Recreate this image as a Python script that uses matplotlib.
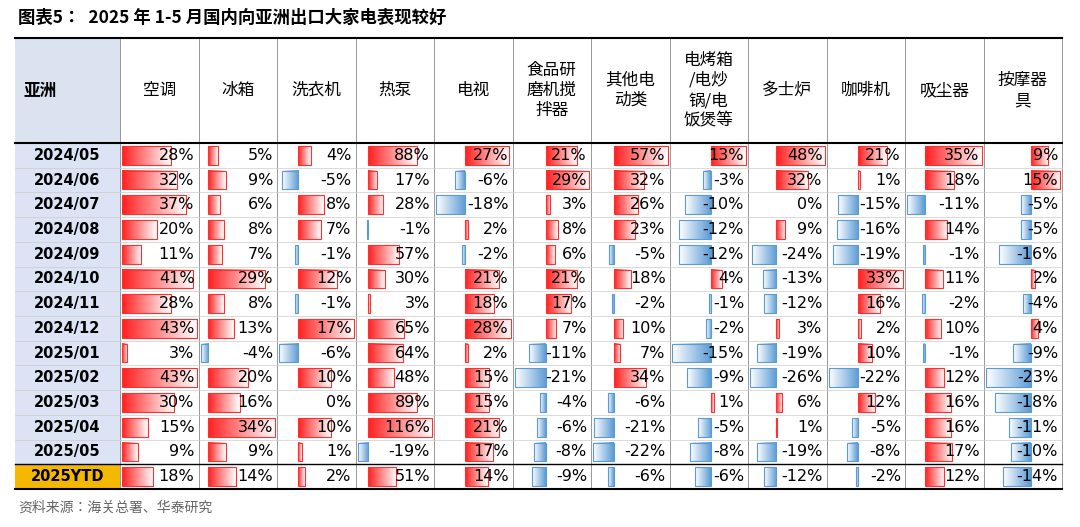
import numpy as np
import matplotlib as mpl
mpl.use('Agg')
import matplotlib.pyplot as plt
from matplotlib.patches import Rectangle
from matplotlib.colors import LinearSegmentedColormap

plt.rcParams['font.family'] = ['DejaVu Sans', 'Noto Sans CJK JP', 'Noto Sans CJK SC']
CJK = ['Noto Sans CJK JP', 'Noto Sans CJK SC', 'DejaVu Sans']

columns = ['空调', '冰箱', '洗衣机', '热泵', '电视', '食品研\n磨机搅\n拌器', '其他电\n动类',
           '电烤箱\n/电炒\n锅/电\n饭煲等', '多士炉', '咖啡机', '吸尘器', '按摩器\n具']
rows = ['2024/05', '2024/06', '2024/07', '2024/08', '2024/09', '2024/10', '2024/11',
        '2024/12', '2025/01', '2025/02', '2025/03', '2025/04', '2025/05', '2025YTD']
values = [
    [28, 5, 4, 88, 27, 21, 57, 13, 48, 21, 35, 9],
    [32, 9, -5, 17, -6, 29, 32, -3, 32, 1, 18, 15],
    [37, 6, 8, 28, -18, 3, 26, -10, 0, -15, -11, -5],
    [20, 8, 7, -1, 2, 8, 23, -12, 9, -16, 14, -5],
    [11, 7, -1, 57, -2, 6, -5, -12, -24, -19, -1, -16],
    [41, 29, 12, 30, 21, 21, 18, 4, -13, 33, 11, 2],
    [28, 8, -1, 3, 18, 17, -2, -1, -12, 16, -2, -4],
    [43, 13, 17, 65, 28, 7, 10, -2, 3, 2, 10, 4],
    [3, -4, -6, 64, 2, -11, 7, -15, -19, 10, -1, -9],
    [43, 20, 10, 48, 15, -21, 34, -9, -26, -22, 12, -23],
    [30, 16, 0, 89, 15, -4, -6, 1, 6, 12, 16, -18],
    [15, 34, 10, 116, 21, -6, -21, -5, 1, -5, 16, -11],
    [9, 9, 1, -19, 17, -8, -22, -8, -19, -8, 17, -10],
    [18, 14, 2, 51, 14, -9, -6, -6, -12, -2, 12, -14],
]
vals = np.array(values, dtype=float)

W, H = 1080, 527
fig = plt.figure(figsize=(W / 100, H / 100), dpi=100)
ax = fig.add_axes([0, 0, 1, 1])
ax.set_xlim(0, W)
ax.set_ylim(H, 0)
ax.axis('off')

x0, x1 = 15, 1062
first_w = 105
col_w = (x1 - x0 - first_w) / len(columns)
head_top, head_bot = 38, 143
row_h = (489 - head_bot) / len(rows)

reds = LinearSegmentedColormap.from_list('r', ['#ff2020', '#ffffff'])
blues = LinearSegmentedColormap.from_list('b', ['#ffffff', '#5b9bd5'])
grad = np.linspace(0, 1, 64).reshape(1, -1)

ax.text(18, 18, '图表5：  2025 年 1-5 月国内向亚洲出口大家电表现较好', fontsize=12.5,
        fontweight='bold', va='center', ha='left', fontfamily=CJK)

# header
ax.add_patch(Rectangle((x0, head_top), first_w, head_bot - head_top, fc='#dbe3f1', ec='none'))
ax.text(x0 + 8, (head_top + head_bot) / 2, '亚洲', fontsize=12, fontweight='bold',
        va='center', fontfamily=CJK)
for j, c in enumerate(columns):
    cx = x0 + first_w + col_w * (j + 0.5)
    ax.text(cx, (head_top + head_bot) / 2, c, fontsize=12, ha='center', va='center',
            linespacing=1.25, fontfamily=CJK)
    ax.plot([x0 + first_w + col_w * j] * 2, [head_top, 489], color='#888888', lw=0.6)
ax.plot([x0 + first_w + col_w * 12] * 2, [head_top, 489], color='#888888', lw=0.6)

for i, r in enumerate(rows):
    ytop = head_bot + row_h * i
    ytd = r.endswith('YTD')
    ax.add_patch(Rectangle((x0, ytop), first_w, row_h,
                           fc='#f5b800' if ytd else '#dbe3f4', ec='none'))
    ax.text(x0 + first_w / 2, ytop + row_h / 2, r, fontsize=10.5, fontweight='bold',
            ha='center', va='center')
    ax.plot([x0, x1], [ytop, ytop], color='#cccccc' if i else 'black', lw=0.5 if i else 1.5)

for j in range(len(columns)):
    col = vals[:, j]
    lo, hi = min(0, col.min()), max(0, col.max())
    span = hi - lo
    cl = x0 + first_w + col_w * j + 2
    usable = col_w - 4
    axis_x = cl + usable * (-lo / span)
    for i, v in enumerate(col):
        ytop = head_bot + row_h * i + 3
        bh = row_h - 6
        length = usable * abs(v) / span
        if v > 0:
            ax.imshow(grad, cmap=reds, extent=(axis_x, axis_x + length, ytop + bh, ytop),
                      aspect='auto', zorder=2)
            ax.add_patch(Rectangle((axis_x, ytop), length, bh, fc='none', ec='#ff3030', lw=0.8, zorder=3))
        elif v < 0:
            ax.imshow(grad, cmap=blues, extent=(axis_x - length, axis_x, ytop + bh, ytop),
                      aspect='auto', zorder=2)
            ax.add_patch(Rectangle((axis_x - length, ytop), length, bh, fc='none', ec='#5b9bd5', lw=0.8, zorder=3))
        ax.text(x0 + first_w + col_w * (j + 1) - 4, head_bot + row_h * (i + 0.5), f'{int(v)}%',
                fontsize=11.5, ha='right', va='center', zorder=4)

ax.plot([x0, x1], [head_top, head_top], color='black', lw=1.5)
ax.plot([x0, x1], [489, 489], color='black', lw=1.5)
ax.plot([x0, x1], [head_bot + row_h * 13] * 2, color='black', lw=1)
ax.text(18, 508, '资料来源：海关总署、华泰研究', fontsize=10, color='#666666', va='center',
        fontfamily=CJK)

fig.savefig('out.png', dpi=100)
